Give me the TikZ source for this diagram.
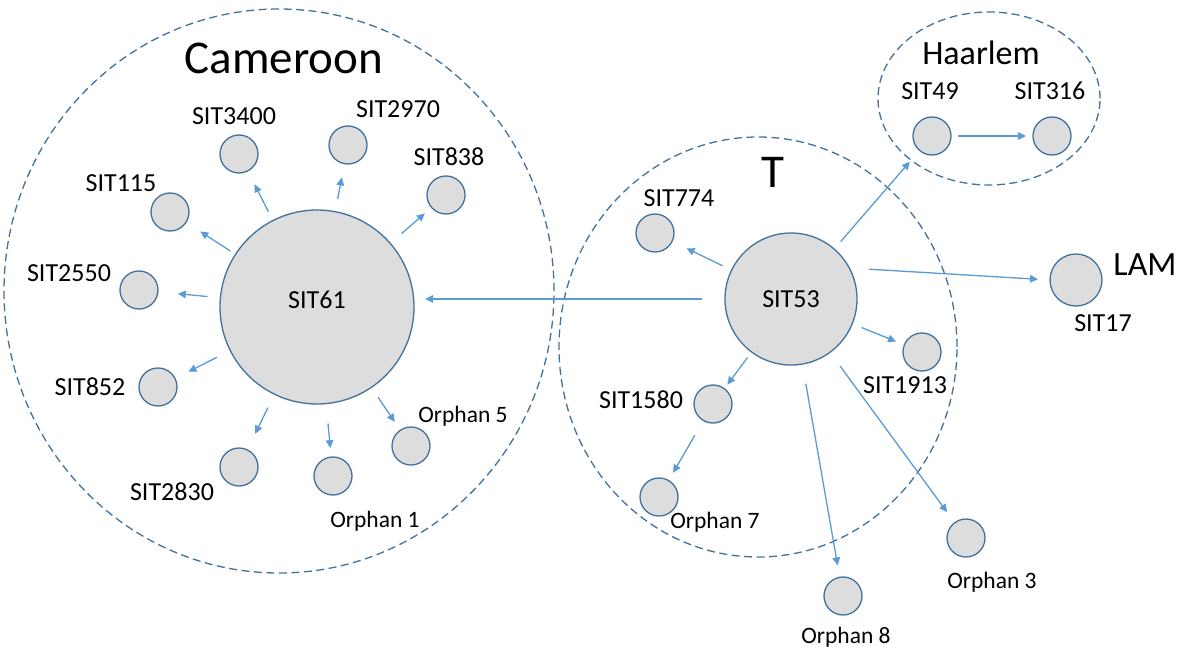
\documentclass[tikz,border=0pt]{standalone}
\usepackage{fontspec}
\setmainfont{Carlito}
\usetikzlibrary{arrows.meta}
\definecolor{rimblue}{RGB}{65,113,156}
\definecolor{linkblue}{RGB}{91,155,213}
\definecolor{discgray}{RGB}{221,221,221}

\begin{document}
\begin{tikzpicture}[x=1pt,y=-1pt,
  disc/.style={circle,draw=rimblue,fill=discgray,line width=1.3pt,inner sep=0pt,outer sep=0pt,minimum size=38pt},
  hub/.style={disc,font=\fontsize{26}{30}\selectfont},
  lbl/.style={anchor=base,inner sep=0pt,font=\fontsize{26}{30}\selectfont},
  orph/.style={anchor=base,inner sep=0pt,font=\fontsize{23.5}{28}\selectfont},
  bigname/.style={anchor=base,inner sep=0pt,font=\fontsize{47}{56}\selectfont},
  midname/.style={anchor=base,inner sep=0pt,font=\fontsize{34}{40}\selectfont},
  region/.style={draw=rimblue,line width=1.3pt,dash pattern=on 8pt off 4.5pt},
  link/.style={draw=linkblue,line width=1.3pt,-{Triangle[length=8pt,width=7.5pt]}}
]
\useasboundingbox (0,0) rectangle (1193,647);

% lineage groupings
\draw[region] (279,291) ellipse [x radius=275pt, y radius=282pt];
\draw[region] (758,347) ellipse [x radius=199pt, y radius=210pt];
\draw[region] (989,98.5) ellipse [x radius=111pt, y radius=86.5pt];

% group names
\node[bigname] (nCam) at (284,74) {Cameroon};
\node[bigname] (nT) at (773,188) {T};
\node[midname] (nHaa) at (981,65) {Haarlem};
\node[midname] (nLam) at (1145,275) {LAM};

% central types
\node[hub,minimum size=194pt,text height=17pt,text depth=14.2pt] (s61) at (317,307) {SIT61};
\node[hub,minimum size=132pt] (s53) at (791,299) {SIT53};

% Cameroon satellites
\node[disc] (s3400) at (239,154) {};
\node[disc] (s2970) at (348,145) {};
\node[disc] (s838) at (446,195) {};
\node[disc] (s115) at (170,212) {};
\node[disc] (s2550) at (139,290) {};
\node[disc] (s852) at (158,387) {};
\node[disc] (s2830) at (239,467) {};
\node[disc] (o1) at (333,476) {};
\node[disc] (o5) at (411,446) {};

% T satellites
\node[disc] (s774) at (655,233) {};
\node[disc] (s1913) at (922,352) {};
\node[disc] (s1580) at (713,404) {};
\node[disc] (o7) at (659,497) {};
\node[disc] (o8) at (843,596) {};
\node[disc] (o3) at (966,538) {};

% Haarlem and LAM
\node[disc] (s49) at (932,136) {};
\node[disc] (s316) at (1052,136) {};
\node[disc,minimum size=52pt] (s17) at (1076,280) {};

% labels
\node[lbl] (l3400) at (234,125) {SIT3400};
\node[lbl] (l2970) at (398,118) {SIT2970};
\node[lbl] (l838) at (449,166) {SIT838};
\node[lbl] (l115) at (121,191) {SIT115};
\node[lbl] (l2550) at (69,281) {SIT2550};
\node[lbl] (l852) at (90,395) {SIT852};
\node[lbl] (l2830) at (172,500) {SIT2830};
\node[lbl] (l774) at (679,207) {SIT774};
\node[lbl] (l1580) at (641,408) {SIT1580};
\node[lbl] (l1913) at (905,393) {SIT1913};
\node[lbl] (l17) at (1103,331) {SIT17};
\node[lbl] (l49) at (930,100) {SIT49};
\node[lbl] (l316) at (1050,100) {SIT316};
\node[orph] (lo5) at (463,422) {Orphan 5};
\node[orph] (lo1) at (375,527) {Orphan 1};
\node[orph] (lo7) at (715,528) {Orphan 7};
\node[orph] (lo8) at (846,643) {Orphan 8};
\node[orph] (lo3) at (992,588) {Orphan 3};

% links from SIT61
\draw[link, shorten <=10pt, shorten >=15pt] (s61) -- (s3400);
\draw[link, shorten <=13pt, shorten >=14pt] (s61) -- (s2970);
\draw[link, shorten <=15pt, shorten >=9pt] (s61) -- (s838);
\draw[link, shorten <=6pt, shorten >=17pt] (s61) -- (s115);
\draw[link, shorten <=13pt, shorten >=20pt] (s61) -- (s2550);
\draw[link, shorten <=15pt, shorten >=15pt] (s61) -- (s852);
\draw[link, shorten <=15pt, shorten >=18pt] (s61) -- (s2830);
\draw[link, shorten <=20pt, shorten >=9pt] (s61) -- (o1);
\draw[link, shorten <=12pt, shorten >=10pt] (s61) -- (o5);

% links from SIT53 (the one to SIT61 runs level with SIT53's centre)
\draw[link, shorten <=23pt, shorten >=108pt] (s53) -- (s53 -| s61);
\draw[link, shorten <=10pt, shorten >=16pt] (s53) -- (s774);
\draw[link, shorten <=10pt, shorten >=15pt] (s53) -- (s49);
\draw[link, shorten <=20pt, shorten >=12pt] (s53.28) -- (s17.west);
\draw[link, shorten <=10pt, shorten >=9pt] (s53) -- (s1913);
\draw[link, shorten <=7pt, shorten >=5pt] (s53) -- (s1580);
\draw[link, shorten <=20pt, shorten >=12pt] (s53) -- (o8);
\draw[link, shorten <=17pt, shorten >=13pt] (s53) -- (o3);
\draw[link, shorten <=17pt, shorten >=9pt] (s1580) -- (o7);
\draw[link, shorten <=7pt, shorten >=7pt] (s49) -- (s316);
\end{tikzpicture}
\end{document}
